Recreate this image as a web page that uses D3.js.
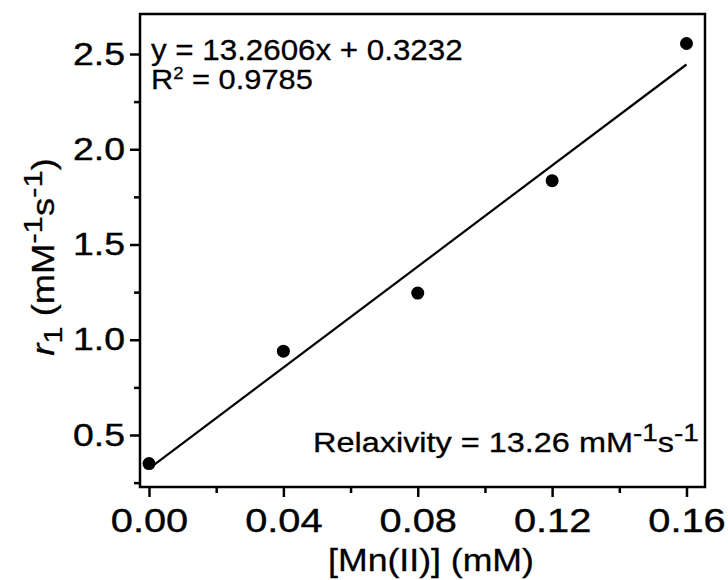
<!DOCTYPE html>
<html><head><meta charset="utf-8">
<script src="https://cdn.jsdelivr.net/npm/d3@7"></script>
<style>
body{margin:0;background:#fff}
text{font-family:"Liberation Sans",Arial,sans-serif;fill:#000}
</style>
</head><body><svg id="chart" width="728" height="580"></svg>
<script>
// Longitudinal relaxivity r1 against Mn(II) concentration
const concentrations = [0, 0.04, 0.08, 0.12, 0.16];
const r1Values = [0.35, 0.94, 1.245, 1.835, 2.555];
const fitSlope = 13.2606;
const fitIntercept = 0.3232;
const fitR2 = "0.9785";
const xTicks = [0, 0.04, 0.08, 0.12, 0.16];
const xTickLabels = ["0.00", "0.04", "0.08", "0.12", "0.16"];
const xMinorTicks = [0.02, 0.06, 0.10, 0.14];
const yTicks = [0.5, 1.0, 1.5, 2.0, 2.5];
const yTickLabels = ["0.5", "1.0", "1.5", "2.0", "2.5"];
const yMinorTicks = [0.25, 0.75, 1.25, 1.75, 2.25];

const svg = d3.select("#chart");
const W = 728, H = 580;
const plot = {left: 140, top: 14, right: 705, bottom: 487};
const stretch = 1.17; // horizontal text widening

const x = d3.scaleLinear().domain([-0.00268, 0.16551]).range([plot.left, plot.right]);
const y = d3.scaleLinear().domain([0.227, 2.71]).range([plot.bottom, plot.top]);

svg.append("rect").attr("width", W).attr("height", H).attr("fill", "#fff");

// minor ticks
const xMinor = d3.axisBottom(x).tickValues(xMinorTicks).tickSize(6).tickFormat("").tickSizeOuter(0);
const yMinor = d3.axisLeft(y).tickValues(yMinorTicks).tickSize(6).tickFormat("").tickSizeOuter(0);
svg.append("g").attr("transform", `translate(0,${plot.bottom})`).call(xMinor);
svg.append("g").attr("transform", `translate(${plot.left},0)`).call(yMinor);

// major ticks with labels
const xAxis = d3.axisBottom(x).tickValues(xTicks)
  .tickFormat((d, i) => xTickLabels[i]).tickSize(10).tickPadding(11).tickSizeOuter(0);
const yAxis = d3.axisLeft(y).tickValues(yTicks)
  .tickFormat((d, i) => yTickLabels[i]).tickSize(10).tickPadding(7).tickSizeOuter(0);

const gx = svg.append("g").attr("transform", `translate(0,${plot.bottom})`).call(xAxis);
const gy = svg.append("g").attr("transform", `translate(${plot.left},0)`).call(yAxis);

svg.selectAll(".domain").remove();
svg.selectAll(".tick line").attr("stroke", "#000").attr("stroke-width", 2.5);

gx.selectAll("text")
  .attr("font-family", "Liberation Sans, Arial, sans-serif")
  .attr("font-size", 34).attr("fill", "#000")
  .attr("stroke", "#000").attr("stroke-width", 0.4)
  .attr("transform", `scale(${stretch},1)`);
gy.selectAll("text")
  .attr("font-family", "Liberation Sans, Arial, sans-serif")
  .attr("font-size", 32).attr("fill", "#000")
  .attr("stroke", "#000").attr("stroke-width", 0.4)
  .attr("x", -15 / stretch)
  .attr("transform", `scale(${stretch},1)`);

// frame
svg.append("rect")
  .attr("x", plot.left).attr("y", plot.top)
  .attr("width", plot.right - plot.left).attr("height", plot.bottom - plot.top)
  .attr("fill", "none").attr("stroke", "#000").attr("stroke-width", 2.5);

// linear fit
const x0 = concentrations[0], x1 = concentrations[concentrations.length - 1];
svg.append("line")
  .attr("x1", x(x0)).attr("y1", y(fitSlope * x0 + fitIntercept))
  .attr("x2", x(x1)).attr("y2", y(fitSlope * x1 + fitIntercept))
  .attr("stroke", "#000").attr("stroke-width", 2.2);

// measured points
svg.selectAll("circle.pt").data(concentrations).enter().append("circle")
  .attr("class", "pt")
  .attr("cx", d => x(d)).attr("cy", (d, i) => y(r1Values[i]))
  .attr("r", 6.5).attr("fill", "#000");

// helper: text built from runs, with optional super/subscripts
function richText(parent, px, py, runs, size, opts = {}) {
  const g = parent.append("g").attr("transform",
    `translate(${px},${py})${opts.rotate ? ` rotate(${opts.rotate})` : ""} scale(${opts.sx || stretch},1)`);
  const t = g.append("text").attr("font-size", size)
    .attr("text-anchor", opts.anchor || "start")
    .attr("stroke", "#000").attr("stroke-width", 0.3);
  let shift = 0;
  runs.forEach(r => {
    const ts = t.append("tspan").text(r.t);
    let target = 0;
    if (r.sup) target = -size * (opts.supRise || 0.42);
    if (r.sub) target = size * 0.25;
    ts.attr("dy", target - shift);
    shift = target;
    if (r.sup || r.sub) ts.attr("font-size", size * (opts.supScale || 0.72));
    if (r.italic) ts.attr("font-style", "italic");
  });
  return g;
}

// regression annotation
richText(svg, 151, 60, [{t: `y = ${fitSlope}x + ${fitIntercept}`}], 29, {sx: 1.08});
richText(svg, 151, 89, [{t: "R"}, {t: "2", sup: true}, {t: ` = ${fitR2}`}], 28,
  {sx: 1.1, supScale: 0.6, supRise: 0.34});

// relaxivity note
richText(svg, 313, 452, [
  {t: "Relaxivity = 13.26 mM"}, {t: "-1", sup: true}, {t: "s"}, {t: "-1", sup: true}
], 27.5, {sx: 1.18, supScale: 0.86, supRise: 0.4});

// axis titles
richText(svg, 431, 571, [{t: "[Mn(II)] (mM)"}], 31, {anchor: "middle", sx: 1.15});
richText(svg, 54, 257, [
  {t: "r", italic: true}, {t: "1", sub: true}, {t: " (mM"}, {t: "-1", sup: true},
  {t: "s"}, {t: "-1", sup: true}, {t: ")"}
], 31, {anchor: "middle", rotate: -90, sx: 1.17, supScale: 0.86, supRise: 0.4});
</script>
</body></html>
